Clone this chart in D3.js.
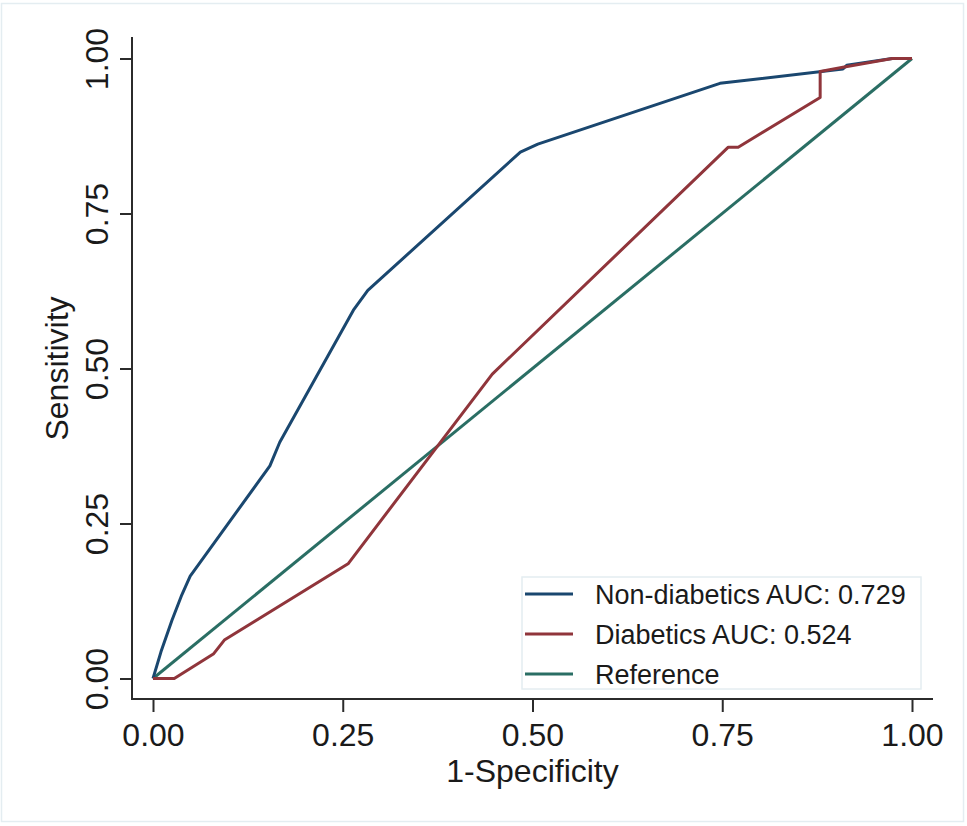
<!DOCTYPE html>
<html>
<head>
<meta charset="utf-8">
<script src="https://cdn.jsdelivr.net/npm/d3@7"></script>
<style>
  html, body { margin: 0; padding: 0; background: #fff; }
  svg { display: block; }
  text { font-family: "Liberation Sans", Arial, Helvetica, sans-serif; fill: #1a1a1a; }
</style>
</head>
<body>
<svg id="chart" width="967" height="826"></svg>
<script>
// ---- data ----
const nonDiabeticsX = [0, 0.0105, 0.025, 0.038, 0.049, 0.154, 0.167, 0.264, 0.283, 0.484, 0.507, 0.747, 0.909, 0.914, 0.974, 1];
const nonDiabeticsY = [0, 0.043, 0.094, 0.135, 0.165, 0.343, 0.381, 0.594, 0.626, 0.849, 0.862, 0.960, 0.983, 0.989, 1.0, 1];
const diabeticsX = [0, 0.028, 0.080, 0.094, 0.257, 0.447, 0.758, 0.771, 0.879, 0.879, 0.909, 0.974, 1];
const diabeticsY = [0, 0, 0.040, 0.062, 0.185, 0.491, 0.857, 0.857, 0.937, 0.979, 0.986, 1.0, 1];
const referenceX = [0, 1];
const referenceY = [0, 1];
const tickValues = [0, 0.25, 0.5, 0.75, 1];
const tickLabels = ["0.00", "0.25", "0.50", "0.75", "1.00"];
const seriesNames = ["Non-diabetics AUC: 0.729", "Diabetics AUC: 0.524", "Reference"];
const seriesColors = ["#1a476f", "#90353b", "#2a6e64"];
const xTitle = "1-Specificity";
const yTitle = "Sensitivity";

const svg = d3.select("#chart");

// outer frame
svg.append("rect").attr("x", 1.5).attr("y", 3.5).attr("width", 962).attr("height", 818)
  .attr("fill", "#fff").attr("stroke", "#e4edf1").attr("stroke-width", 1.5);

const x = d3.scaleLinear().domain([0, 1]).range([153, 912]);
const y = d3.scaleLinear().domain([0, 1]).range([678.5, 58.5]);

const fontFam = "'Liberation Sans', Arial, sans-serif";
const labelSize = 32;

// axes
const axisColor = "#2b2b2b";
const xAxis = d3.axisBottom(x).tickValues(tickValues).tickFormat((d, i) => tickLabels[i]).tickSize(13).tickPadding(8);
const gx = svg.append("g").attr("transform", "translate(0,699)").call(xAxis);
gx.select(".domain").remove();
gx.append("line").attr("x1", 131).attr("x2", 933).attr("y1", 0).attr("y2", 0)
  .attr("stroke", axisColor).attr("stroke-width", 2);
gx.selectAll(".tick line").attr("stroke", axisColor).attr("stroke-width", 2);
gx.selectAll(".tick text").attr("font-size", labelSize).attr("fill", "#1a1a1a")
  .attr("font-family", fontFam).attr("dy", null).attr("y", 47);

const yAxis = d3.axisLeft(y).tickValues(tickValues).tickFormat((d, i) => tickLabels[i]).tickSize(12);
const gy = svg.append("g").attr("transform", "translate(132,0)").call(yAxis);
gy.select(".domain").remove();
gy.append("line").attr("x1", 0).attr("x2", 0).attr("y1", 37).attr("y2", 700)
  .attr("stroke", axisColor).attr("stroke-width", 2);
gy.selectAll(".tick line").attr("stroke", axisColor).attr("stroke-width", 2);
gy.selectAll(".tick text")
  .attr("font-size", labelSize).attr("fill", "#1a1a1a")
  .attr("font-family", fontFam)
  .attr("x", null).attr("dy", null)
  .attr("text-anchor", "middle")
  .attr("transform", "translate(-24,0) rotate(-90)")
  .attr("y", 0);

// axis titles
svg.append("text").attr("x", x(0.5)).attr("y", 782).attr("text-anchor", "middle")
  .attr("font-size", labelSize).text(xTitle);
svg.append("text").attr("transform", `translate(68,${y(0.5)}) rotate(-90)`).attr("text-anchor", "middle")
  .attr("font-size", labelSize).text(yTitle);

// lines
const line = d3.line().x(d => x(d[0])).y(d => y(d[1]));
const series = [
  d3.zip(nonDiabeticsX, nonDiabeticsY),
  d3.zip(diabeticsX, diabeticsY),
  d3.zip(referenceX, referenceY)
];
const drawOrder = [2, 0, 1];
drawOrder.forEach(i => {
  svg.append("path").datum(series[i]).attr("d", line)
    .attr("fill", "none").attr("stroke", seriesColors[i]).attr("stroke-width", 3)
    .attr("stroke-linejoin", "round");
});

// legend
const lg = svg.append("g");
lg.append("rect").attr("x", 522).attr("y", 577).attr("width", 399).attr("height", 112)
  .attr("fill", "#fff").attr("stroke", "#e4edf1").attr("stroke-width", 1.5);
seriesNames.forEach((name, i) => {
  const cy = 594 + i * 40;
  lg.append("line").attr("x1", 525).attr("x2", 573).attr("y1", cy).attr("y2", cy)
    .attr("stroke", seriesColors[i]).attr("stroke-width", 3);
  lg.append("text").attr("x", 595).attr("y", cy + 10).attr("font-size", 27).text(name);
});
</script>
</body>
</html>
